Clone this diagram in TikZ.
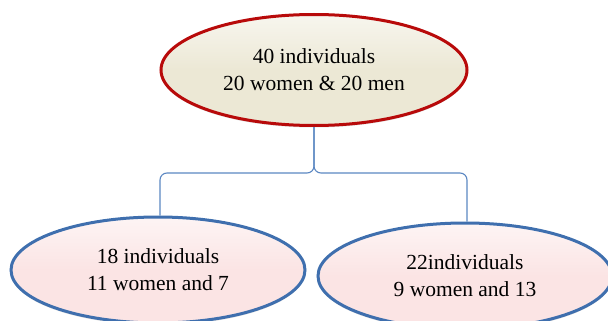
\documentclass[tikz,border=0pt]{standalone}
\usepackage{fontspec}
\setmainfont{Liberation Serif}
\usetikzlibrary{shapes.geometric,shadows}
\definecolor{beigefill}{HTML}{ECE8D5}
\definecolor{redline}{HTML}{B80A0A}
\definecolor{pinkfill}{HTML}{FBE4E4}
\definecolor{blueline}{HTML}{3F6FAE}
\definecolor{connline}{HTML}{5B87C2}
\tikzset{
  ebox/.style={ellipse, inner sep=0pt, align=center, text=black,
    font=\fontsize{21.5}{27}\selectfont,
    drop shadow={opacity=0.25, shadow xshift=0pt, shadow yshift=-2pt}},
  topbox/.style={ebox, draw=redline, line width=3pt,
    top color=beigefill!40!white, bottom color=beigefill, middle color=beigefill,
    minimum width=306pt, minimum height=111pt},
  subbox/.style={ebox, draw=blueline, line width=3pt,
    top color=pinkfill!40!white, bottom color=pinkfill, middle color=pinkfill,
    minimum width=294pt, minimum height=106pt},
  conn/.style={draw=connline, line width=1.1pt, rounded corners=7pt}
}
\begin{document}
\begin{tikzpicture}[x=1pt,y=-1pt]
\useasboundingbox (0,0) rectangle (608,321);
\clip (0,0) rectangle (608,321);
\node[topbox] (top) at (314,70) {40 individuals\\20 women \& 20 men};
\node[subbox] (left) at (158,270) {18 individuals\\11 women and 7};
\node[subbox] (right) at (465,276) {22individuals\\9 women and 13};
\draw[conn] (top.south) -- ++(0,46) -| ([xshift=2pt]left.north);
\draw[conn] (top.south) -- ++(0,46) -| ([xshift=2pt]right.north);
\end{tikzpicture}
\end{document}
